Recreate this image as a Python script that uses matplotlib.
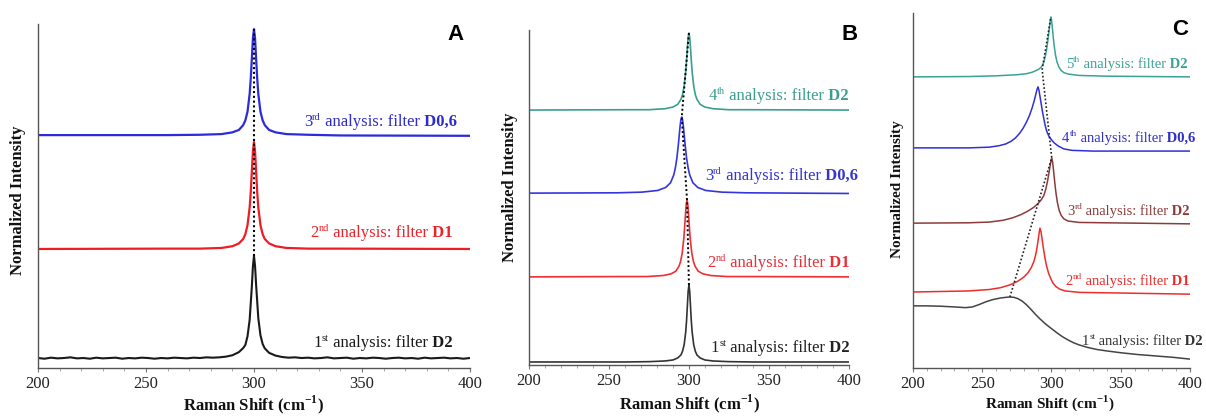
import matplotlib
matplotlib.use("Agg")
from matplotlib import pyplot as plt
from matplotlib.ticker import MultipleLocator
from matplotlib.transforms import IdentityTransform

plt.rcParams['font.family'] = ['Liberation Serif', 'DejaVu Serif']
plt.rcParams['mathtext.fontset'] = 'custom'
plt.rcParams['mathtext.rm'] = 'Liberation Serif'
plt.rcParams['mathtext.bf'] = 'Liberation Serif:bold'

# ---- panel A : all peaks at 300 cm-1 (offsets stacked, normalised) ----
a_x = [200, 260, 275, 285, 290, 293, 295, 296, 297, 298, 298.5, 299, 299.5, 300,
       300.5, 301, 301.5, 302, 303, 304, 305, 307, 310, 315, 325, 340, 400]
a_red = [.346, .347, .347, .349, .354, .362, .375, .389, .415, .467, .511, .570, .629, .657,
         .629, .570, .511, .467, .415, .389, .375, .362, .354, .349, .347, .347, .346]
a_blue = [.677, .677, .678, .680, .685, .692, .706, .720, .745, .797, .841, .898, .958, .985,
          .958, .898, .841, .797, .745, .720, .706, .692, .685, .680, .678, .676, .675]
a_black_x = [200, 203, 206, 209, 212, 215, 218, 221, 224, 227, 230, 233, 236, 239, 242, 245,
             248, 251, 254, 257, 260, 263, 266, 269, 272, 275, 278, 281, 284, 287, 290, 293,
             295, 296, 297, 298, 299, 299.5, 300, 300.5, 301, 302, 303, 304, 305, 307, 310,
             313, 316, 319, 322, 325, 328, 331, 334, 337, 340, 343, 346, 349, 352, 355, 358,
             361, 364, 367, 370, 373, 376, 379, 382, 385, 388, 391, 394, 397, 400]
a_black = [.029, .027, .030, .028, .029, .031, .028, .029, .027, .030, .028, .029, .030, .027,
           .029, .028, .030, .029, .027, .029, .028, .030, .029, .028, .030, .029, .031, .030,
           .031, .033, .037, .046, .058, .067, .092, .140, .236, .295, .326, .296, .240, .145,
           .095, .070, .057, .044, .036, .032, .030, .031, .029, .030, .028, .029, .031, .028,
           .029, .030, .027, .029, .028, .030, .029, .027, .029, .030, .028, .029, .027, .030,
           .028, .029, .030, .028, .029, .027, .029]
a_peak_x = [300, 300]
a_peak_y = [.326, .985]

# ---- panel B ----
b_x300 = a_x
b_teal = [.761, .762, .762, .765, .770, .778, .793, .807, .832, .876, .908, .945, .977, .991,
          .977, .945, .908, .876, .832, .807, .793, .778, .770, .765, .762, .762, .761]
b_black = [.009, .009, .010, .012, .015, .021, .030, .041, .060, .099, .131, .174, .219, .239,
           .219, .174, .131, .099, .060, .041, .030, .021, .015, .012, .010, .009, .009]
b_red_x = [200, 258.8, 273.8, 283.8, 288.8, 291.8, 293.8, 294.8, 295.8, 296.8, 297.3, 297.8,
           298.3, 298.8, 299.3, 299.8, 300.3, 300.8, 301.8, 302.8, 303.8, 305.8, 308.8, 313.8,
           323.8, 338.8, 400]
b_red = [.263, .264, .264, .267, .272, .280, .295, .309, .334, .378, .410, .447, .479, .493,
         .479, .447, .410, .378, .334, .309, .295, .280, .272, .267, .264, .264, .263]
b_blue_x = [200, 255.5, 270.5, 280.5, 285.5, 288.5, 290.5, 291.5, 292.5, 293.5, 294, 294.5,
            295, 295.5, 296, 296.5, 297, 297.5, 298.5, 299.5, 300.5, 302.5, 305.5, 310.5,
            320.5, 335.5, 400]
b_blue = [.513, .514, .516, .521, .530, .544, .567, .588, .619, .663, .689, .714, .733, .740,
          .733, .714, .689, .663, .619, .588, .567, .544, .530, .521, .516, .514, .512]
b_peak_x = [300, 298.8, 295.5, 300]
b_peak_y = [.239, .493, .740, .991]

# ---- panel C ----
c_teal_x = [200, 240, 260, 275, 282, 286, 289, 291, 292.5, 293.5, 294.5, 295.5, 296.5, 297.5,
            298.5, 299.2, 299.6, 300.1, 300.6, 301.3, 302, 303, 304, 305.5, 307, 309, 312, 320,
            340, 400]
c_teal = [.820, .821, .823, .826, .829, .833, .838, .842, .847, .853, .862, .877, .897, .925,
          .958, .980, .989, .979, .960, .932, .906, .880, .862, .847, .838, .832, .828, .824,
          .822, .820]
c_blue_x = [200, 240, 255, 262, 267, 271, 274, 277, 279.5, 282, 284, 286, 287.5, 288.7, 289.6,
            290.3, 291, 291.8, 292.6, 293.5, 294.5, 295.5, 296.5, 298, 300, 302, 305, 309, 315,
            330, 400]
c_blue = [.620, .620, .622, .626, .631, .639, .648, .661, .675, .693, .710, .732, .752, .771,
          .785, .792, .782, .763, .744, .722, .702, .683, .668, .654, .643, .634, .625, .617,
          .613, .611, .611]
c_brown_x = [200, 240, 255, 265, 272, 278, 283, 287, 290, 292.5, 294.5, 296, 297.2, 298.3,
             299.3, 300.2, 300.9, 301.6, 302.4, 303.3, 304.3, 305.5, 307, 309, 312, 320, 400]
c_brown = [.408, .409, .411, .416, .423, .432, .442, .452, .462, .473, .486, .505, .527, .552,
           .576, .592, .578, .553, .522, .492, .466, .445, .430, .420, .414, .410, .406]
c_red_x = [200, 240, 255, 263, 270, 276, 280, 283, 285.5, 287.5, 289, 290.2, 291, 291.7,
           292.4, 293.2, 294.2, 295.3, 296.5, 298, 299.5, 301, 303, 306, 310, 320, 400]
c_red = [.214, .217, .221, .226, .234, .245, .256, .268, .283, .302, .326, .355, .378, .394,
         .385, .364, .337, .310, .287, .266, .252, .240, .230, .222, .217, .213, .208]
c_black_x = [200, 210, 220, 230, 238, 243, 248, 253, 258, 263, 267, 270, 273, 276, 279, 282,
             285, 288, 291, 294, 297, 300, 304, 308, 312, 316, 320, 326, 333, 340, 350, 362,
             375, 388, 400]
c_black = [.175, .175, .174, .172, .170, .172, .179, .187, .193, .197, .199, .200, .199, .195,
           .188, .178, .166, .153, .141, .130, .120, .111, .099, .088, .079, .071, .065, .058,
           .052, .048, .043, .038, .034, .030, .025]
c_peak_x = [270, 300.2, 293.3, 299.6]
c_peak_y = [.200, .592, .840, .989]

# labels: (ordinal, superscript, filter, x, y, colour)
a_labels = [('3', 'rd', 'D0,6', 394, .703, '#2b2bd0'),
            ('2', 'nd', 'D1', 392, .381, '#e8232b'),
            ('1', 'st', 'D2', 392, .061, '#1a1a1a')]
b_labels = [('4', 'th', 'D2', 400, .791, '#3a9f8f'),
            ('3', 'rd', 'D0,6', 405.6, .552, '#3535d0'),
            ('2', 'nd', 'D1', 400.6, .292, '#e8303a'),
            ('1', 'st', 'D2', 400.6, .039, '#222222')]
c_labels = [('5', 'th', 'D2', 398.6, .845, '#3aa396'),
            ('4', 'th', 'D0,6', 403.6, .637, '#3030c8'),
            ('3', 'rd', 'D2', 400, .431, '#8c3b3b'),
            ('2', 'nd', 'D1', 400, .234, '#e82c2c'),
            ('1', 'st', 'D2', 409.4, .065, '#333333')]

fig = plt.figure(figsize=(12.06, 4.16), dpi=100)
renderer = fig.canvas.get_renderer()

axA = fig.add_axes([0.0315, 0.1154, 0.3582, 0.8269])
axB = fig.add_axes([0.4386, 0.1226, 0.2653, 0.8053])
axC = fig.add_axes([0.7570, 0.1154, 0.2297, 0.8534])


def style(ax):
    ax.set_xlim(200, 400)
    ax.set_ylim(0, 1)
    for s in ['top', 'right']:
        ax.spines[s].set_visible(False)
    for s in ['left', 'bottom']:
        ax.spines[s].set_color('#555555')
        ax.spines[s].set_linewidth(1.0)
    ax.set_yticks([])
    ax.xaxis.set_major_locator(MultipleLocator(50))
    ax.xaxis.set_minor_locator(MultipleLocator(10))
    ax.tick_params(axis='x', which='major', length=3, color='#777777', pad=3,
                   labelsize=12, labelcolor='#222222')
    ax.tick_params(axis='x', which='minor', length=2, color='#999999')
    ax.patch.set_alpha(0)


def put_label(ax, n, sup, filt, x, y, color, fs):
    # right-aligned label built from pieces: number, superscript, text, bold filter
    px, py = ax.transData.transform((x, y))
    px_fs = fs * fig.dpi / 72.0
    pieces = [(' ' + filt, fs, 'bold', 0),
              (' analysis: filter', fs, 'normal', 0),
              (sup, fs * 0.62, 'normal', px_fs * 0.38),
              (n, fs, 'normal', 0)]
    right = px
    for s, size, weight, rise in pieces:
        t = fig.text(right, py + rise, s, fontsize=size, fontweight=weight, color=color,
                     ha='right', va='baseline', transform=IdentityTransform())
        right -= t.get_window_extent(renderer).width


style(axA)
style(axB)
style(axC)

# A
axA.plot(a_black_x, a_black, color='#1a1a1a', lw=1.5)
axA.plot(a_x, a_red, color='#ee1c25', lw=1.6)
axA.plot(a_x, a_blue, color='#2b2bdc', lw=1.6)
axA.plot(a_peak_x, a_peak_y, color='black', lw=1.5, ls=(0, (1, 1.3)))
for n, sup, f, x, y, c in a_labels:
    put_label(axA, n, sup, f, x, y, c, 12)

# B
axB.plot(b_x300, b_black, color='#333333', lw=1.2)
axB.plot(b_red_x, b_red, color='#ee3035', lw=1.2)
axB.plot(b_blue_x, b_blue, color='#3535e0', lw=1.2)
axB.plot(b_x300, b_teal, color='#3a9f8f', lw=1.2)
axB.plot(b_peak_x, b_peak_y, color='black', lw=1.4, ls=(0, (1, 1.3)))
for n, sup, f, x, y, c in b_labels:
    put_label(axB, n, sup, f, x, y, c, 12)

# C
axC.plot(c_black_x, c_black, color='#444444', lw=1.1)
axC.plot(c_red_x, c_red, color='#ee2c2c', lw=1.1)
axC.plot(c_brown_x, c_brown, color='#8c3b3b', lw=1.1)
axC.plot(c_blue_x, c_blue, color='#3030d8', lw=1.1)
axC.plot(c_teal_x, c_teal, color='#3aa396', lw=1.1)
axC.plot(c_peak_x, c_peak_y, color='#222222', lw=1.2, ls=(0, (1, 1.3)))
for n, sup, f, x, y, c in c_labels:
    put_label(axC, n, sup, f, x, y, c, 10.5)

# panel letters
for x, y, s in [(0.3773, 0.9159, 'A'), (0.7048, 0.9159, 'B'), (0.9784, 0.9279, 'C')]:
    fig.text(x, y, s, fontsize=16, fontweight='bold', family='Liberation Sans',
             ha='center', va='center')

# axis titles
for x, y, fs in [(0.0149, 0.519, 12), (0.4229, 0.55, 12), (0.7438, 0.545, 11)]:
    fig.text(x, y, 'Normalized Intensity', rotation=90, fontsize=fs, fontweight='bold',
             ha='center', va='center', color='#111111')
for x, y, fs in [(0.2106, 0.028, 12), (0.5721, 0.030, 12), (0.8706, 0.030, 11)]:
    fig.text(x, y, r'Raman Shift (cm$^{\mathbf{-1}}$)', fontsize=fs, fontweight='bold',
             ha='center', va='center', color='#111111')

fig.savefig('out.png', dpi=100)
